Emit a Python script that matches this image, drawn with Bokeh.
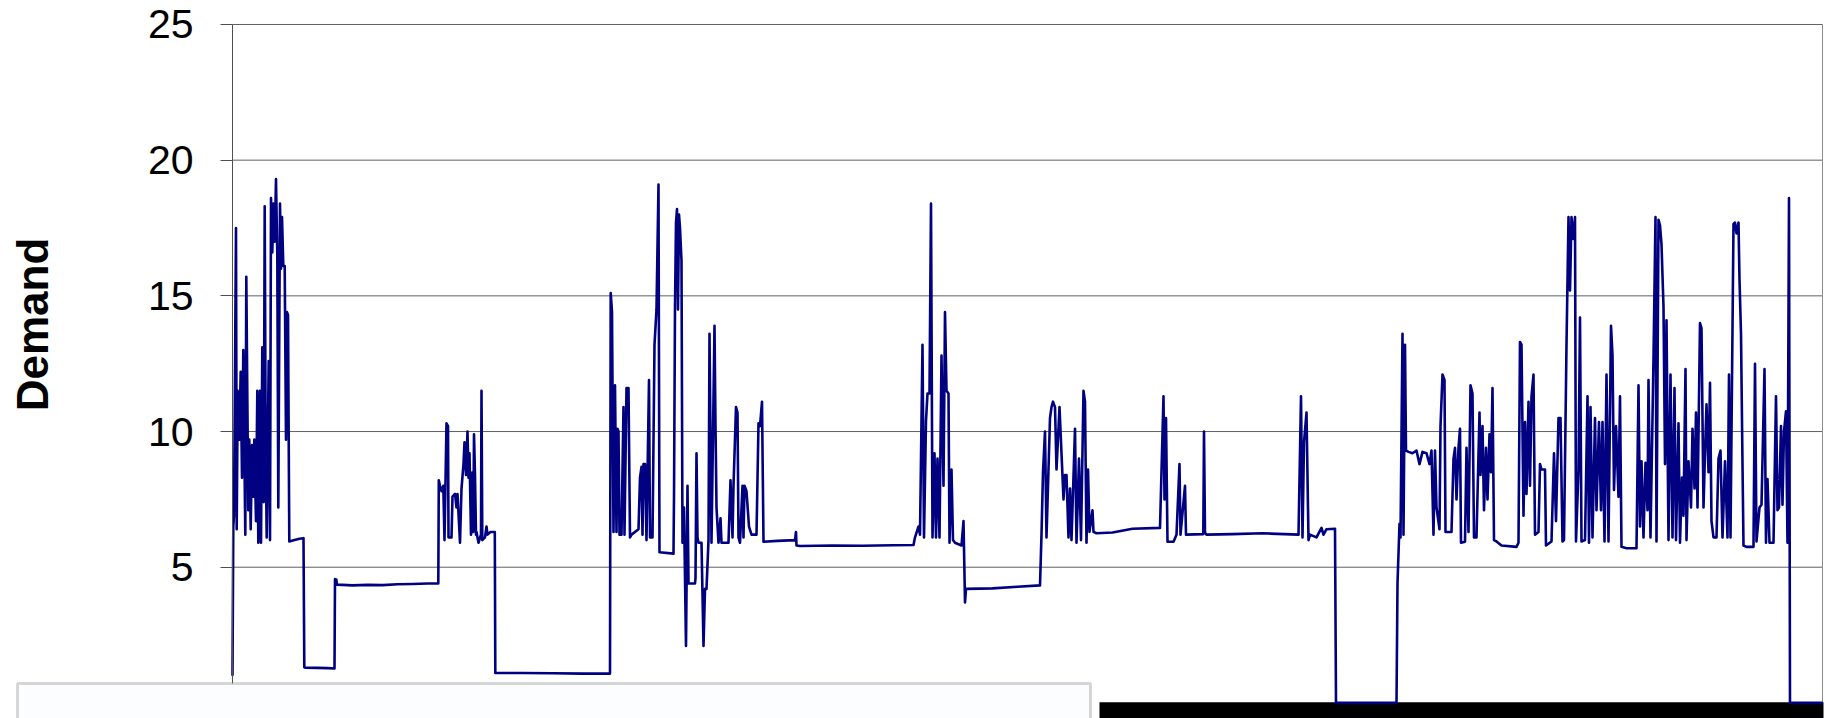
from bokeh.plotting import figure
from bokeh.models import Range1d, FixedTicker, Label, BoxAnnotation, ColumnDataSource
from bokeh.embed import file_html
from bokeh.resources import INLINE

# Demand series: sample time (hours from start) and demand level
hours = [
    0, 0.8, 1.5, 3.5, 4.2, 5.2, 6.8, 8.2, 9.5, 10.8, 12.8, 13.8, 15.8, 16.8, 18.2,
    19.5, 20.8, 21.8, 23.5, 24.8, 25.8, 27.5, 28.5, 29.8, 31.2, 32.2, 33.2, 34.2,
    36.2, 37.5, 38.5, 39.8, 40.8, 42.2, 43.5, 44.8, 45.8, 47.5, 48.5, 49.5, 50.8,
    52.2, 53.5, 54.5, 55.5, 56.8,
    62, 67, 71, 71.8, 72.5, 85, 95, 102, 102.5, 103.8, 104.5, 120, 135, 150, 165,
    180, 195, 205.8,
    206.3, 207.5, 209, 210.8, 212, 214, 215.5, 216, 219, 220, 222.5, 224, 225,
    227.5, 229, 231, 232, 233.5, 235, 236, 237, 238.5, 240, 240.8, 241.5, 242.5,
    243.5, 244, 246, 248.5, 249, 249.8, 252.5, 254, 255, 258, 262.3, 262.8,
    263, 290, 320, 350, 377.5,
    378.2, 379.5, 381, 382.5, 384, 385, 386, 387, 389, 391, 392, 394, 396, 397.5,
    399, 406, 407.5, 409, 410, 411, 412.5, 414, 416.5, 417.5, 420, 422, 424,
    426, 427, 441, 441.5, 442.5, 443.5, 444.5, 445.5, 446.5, 447.5, 449, 450,
    451.5, 453.5, 455, 456, 462.5, 463, 464, 465, 466, 469, 471, 472.5, 474, 476,
    477, 479, 482, 483, 484, 486, 488, 489, 496, 498, 500, 501, 503.5, 505, 506,
    507.5, 510, 511, 512, 514, 516.5, 519, 524, 526, 527.5, 529.5, 531, 545,
    562.5, 563.5, 564, 567.5, 600, 630, 660, 681,
    682.5, 686, 687.5, 690, 691.5, 693.5, 695, 697, 698.5, 700, 702, 703.5, 705,
    707, 709, 711, 712.5, 714, 716, 717, 719, 720.5, 722.5, 729, 731, 732.5,
    733.5, 760, 785, 807.5,
    809, 810.5, 812.5, 814, 817.5, 819, 820.5, 822.5, 824, 827, 829, 831, 832.5,
    834, 836, 837.5, 839, 842.5, 844, 846.5, 848.5, 851, 852.5, 854, 855.5, 857,
    860, 861, 864, 880, 900, 927.5,
    931, 932, 933.5, 935, 941, 944, 947, 948, 952.5, 953.5, 970.8, 971.5, 972.5,
    974, 1000, 1030, 1066,
    1068.5, 1070, 1071.5, 1074, 1076, 1077.5, 1084, 1089, 1091, 1094, 1102.5,
    1103.5, 1164, 1165, 1167, 1168, 1170, 1171, 1172.5, 1173.5,
    1176, 1180, 1184, 1187, 1190, 1194, 1197, 1199, 1201, 1202.5, 1204, 1207,
    1208, 1210, 1212, 1213, 1219, 1221, 1222.5, 1224, 1226, 1227.5, 1228.5,
    1232.5, 1234, 1236, 1238, 1240, 1241.5, 1244, 1247, 1248, 1250, 1251.5,
    1253.5, 1255, 1257, 1258.5, 1260, 1261.5, 1264, 1269, 1284, 1286, 1287.5,
    1289, 1291, 1292.5, 1294, 1296, 1297.5, 1299, 1301, 1302.5, 1306, 1307.5,
    1309, 1312.5, 1313.5, 1319, 1321.5, 1323.5, 1326, 1328, 1330, 1331.5, 1334,
    1336, 1337.5, 1339, 1341, 1342.5, 1343.5, 1346, 1347.5, 1349, 1352.5, 1355,
    1356.5, 1358, 1360, 1362.5, 1364, 1366.5, 1368.5, 1370, 1372, 1374, 1376,
    1378.5, 1380, 1381.5, 1383.5, 1386, 1387.5, 1389, 1394, 1404, 1406, 1407.5,
    1409, 1411, 1413, 1415, 1416, 1418, 1421, 1423, 1424, 1426, 1427.5, 1429,
    1431, 1432.5, 1434, 1436, 1438, 1440, 1442, 1443.5, 1446, 1447.5, 1449.5,
    1451, 1453, 1454, 1456, 1458.5, 1460, 1462, 1463.5, 1465, 1467.5, 1469, 1471,
    1472.5, 1474, 1476, 1477.5, 1479, 1481, 1484, 1486, 1488, 1490, 1492.5, 1495,
    1496.5, 1498, 1501, 1502.5, 1504, 1506, 1507, 1508.5, 1510, 1511, 1514, 1521,
    1522.5, 1524, 1527, 1529, 1532, 1533.5, 1535, 1537, 1541, 1543.5, 1545,
    1546.5, 1548.5, 1550, 1551.5, 1553.5, 1555, 1556.5, 1557.5, 1590,
]
demand = [
    1.0, 6.5, 6.9, 17.5, 6.4, 11.5, 9.7, 12.2, 8.3, 13.0, 6.2, 15.7, 7.1, 9.7, 6.4,
    9.5, 7.6, 9.7, 6.7, 11.5, 5.9, 11.5, 5.9, 13.1, 7.4, 18.3, 9.3, 6.1,
    12.6, 6.0, 18.6, 16.6, 18.4, 17.0, 19.3, 16.5, 7.2, 18.4, 16.0, 17.9, 16.1,
    16.1, 9.7, 14.4, 14.3, 5.95,
    6.0, 6.05, 6.07, 1.31, 1.3, 1.29, 1.28, 1.27, 4.56, 4.55, 4.36, 4.33, 4.35,
    4.34, 4.37, 4.38, 4.4, 4.4,
    8.2, 8.0, 7.8, 8.0, 6.0, 10.3, 10.2, 6.1, 6.1, 7.6, 7.7, 7.2, 7.7,
    5.9, 7.9, 8.8, 9.6, 8.4, 10.0, 8.3, 9.2, 6.2, 8.5, 6.3, 9.9, 8.4,
    6.2, 6.3, 5.9, 6.2, 11.5, 6.0, 6.1, 6.5, 6.2, 6.3, 6.3, 1.1,
    1.1, 1.1, 1.09, 1.08, 1.08,
    15.1, 14.4, 6.3, 11.7, 6.3, 10.1, 10.0, 6.2, 6.2, 10.9, 6.2, 11.6, 11.6, 6.1,
    6.2, 6.4, 8.3, 8.7, 6.2, 8.8, 8.8, 6.0, 11.9, 6.1, 6.1, 13.2, 14.5,
    19.1, 5.55, 5.5, 7.6, 14.6, 17.7, 18.2, 14.5, 18.0, 17.5, 16.3, 5.9,
    7.2, 2.1, 8.0, 4.4, 4.4, 4.6, 9.2, 6.1, 5.9, 5.9, 2.1, 4.2, 4.2, 6.0,
    13.6, 5.9, 13.9, 10.2, 7.2, 5.9, 6.8, 5.9, 5.9, 8.2, 6.1, 8.0, 10.9, 10.7, 6.1,
    5.9, 8.0, 6.1, 8.0, 7.8, 6.5, 6.2, 6.2, 10.3, 10.2, 11.1, 5.94, 5.97,
    6.0, 6.3, 5.8, 5.78, 5.8, 5.79, 5.81, 5.82,
    6.1, 6.5, 6.2, 13.2, 6.1, 10.4, 11.4, 11.4, 18.4, 6.1, 9.2, 6.1, 9.0,
    6.1, 12.8, 8.0, 14.4, 11.5, 11.4, 5.9, 8.6, 6.0, 5.9, 5.8, 6.7, 3.7,
    4.2, 4.22, 4.28, 4.33,
    6.2, 8.5, 10.0, 6.1, 10.5, 10.9, 11.1, 10.9, 8.6, 10.9, 9.2, 7.5, 8.4,
    8.4, 6.1, 7.9, 6.0, 10.1, 5.9, 9.0, 6.0, 11.5, 11.1, 5.9, 8.6, 6.3,
    7.1, 6.3, 6.25, 6.28, 6.42, 6.45,
    11.3, 7.5, 10.5, 5.94, 5.94, 6.2, 8.8, 6.2, 8.0, 6.2, 6.22, 10.0, 6.27,
    6.2, 6.22, 6.25, 6.2,
    11.3, 6.1, 9.6, 10.7, 6.0, 6.2, 6.1, 6.45, 6.2, 6.4, 6.42,
    0.0, 0.0, 4.4, 6.6, 6.1, 13.6, 6.2, 13.2, 9.3,
    9.25, 9.2, 9.3, 8.8, 9.25, 9.2, 8.8, 9.3, 6.2, 9.3, 7.2, 6.4,
    10.2, 12.1, 11.9, 6.3, 6.3, 9.0, 9.4, 7.5, 9.4, 10.1, 5.9,
    5.94, 9.4, 6.3, 11.7, 11.4, 6.1, 6.1, 10.7, 8.4, 10.2, 7.1,
    9.4, 7.5, 9.9, 8.5, 11.6, 6.0, 5.95, 5.8, 5.75, 5.9, 13.3,
    13.2, 6.9, 10.35, 7.7, 11.1, 8.0, 11.3, 12.1, 6.2, 6.3, 8.8,
    8.6, 8.6, 5.8, 5.95, 9.2, 6.7, 10.5, 10.5, 5.95, 6.0, 13.2,
    17.9, 15.2, 17.9, 17.1, 17.9, 5.95, 8.6, 14.2, 5.95, 6.0, 11.3,
    5.9, 10.9, 6.1, 10.5, 7.1, 10.35, 7.1, 10.35, 5.95, 12.1, 5.95,
    13.9, 12.8, 7.85, 10.2, 7.6, 11.3, 5.75, 5.7, 5.7, 11.7, 6.5,
    8.9, 6.1, 8.85, 7.1, 11.9, 6.1, 12.7, 17.9, 5.95, 17.8, 17.6, 16.9,
    14.6, 8.8, 14.1, 6.0, 12.1, 6.1, 11.6, 6.0, 10.3, 5.9, 8.3,
    6.9, 12.3, 6.0, 8.9, 7.2, 10.1, 7.9, 10.7, 7.2, 14.0, 13.8, 7.2,
    9.2, 11.0, 8.5, 11.8, 6.7, 6.1, 6.1, 9.0, 9.3, 6.1, 8.9, 6.1,
    12.1, 6.1, 17.65, 17.7, 17.3, 17.7, 15.6, 13.6, 8.8, 5.8, 5.75, 5.75,
    12.5, 5.95, 7.2, 7.3, 12.3, 5.9, 8.25, 5.9, 5.9, 11.3, 7.1,
    7.2, 10.2, 7.3, 10.0, 10.75, 5.9, 18.6, 0.0, 0.0,
]

tick_values = [5, 10, 15, 20, 25]
y_title = "Demand"

y_low, y_high = -0.575, 25.884

source = ColumnDataSource(data=dict(hours=hours, demand=demand))
grid_src = ColumnDataSource(data=dict(
    y=tick_values, x0=[0] * len(tick_values), x1=[hours[-1]] * len(tick_values)))
edge_src = ColumnDataSource(data=dict(
    x=[hours[-1]], y0=[y_low], y1=[tick_values[-1]]))

# The frame spans the whole canvas; the value axis sits at hour 0 and
# the left 232 px (negative hours) hold its ticks, labels and title.
p = figure(
    width=1825, height=718,
    output_backend="svg", toolbar_location=None,
    x_range=Range1d(-232, 1591), y_range=Range1d(y_low, y_high),
    x_axis_location=None,
    min_border_left=0, min_border_right=2, min_border_top=0, min_border_bottom=0,
)
p.background_fill_color = "white"
p.border_fill_color = "white"
p.outline_line_color = None
p.xgrid.visible = False
p.ygrid.visible = False

# horizontal gridlines across the plotting area only
p.segment(x0="x0", x1="x1", y0="y", y1="y", source=grid_src,
          line_color="#606060", line_width=1, level="underlay")
# right edge of the plotting area
p.segment(x0="x", x1="x", y0="y0", y1="y1", source=edge_src,
          line_color="#8c8c8c", line_width=1, level="underlay")

# y axis drawn at hour 0
yax = p.yaxis[0]
yax.fixed_location = 0
yax.bounds = (y_low, tick_values[-1])
yax.ticker = FixedTicker(ticks=tick_values)
yax.minor_tick_line_color = None
yax.major_tick_in = 0
yax.major_tick_out = 12
yax.major_tick_line_color = "#505050"
yax.axis_line_color = "#505050"
yax.major_label_standoff = 27
yax.major_label_text_font = "Liberation Sans"
yax.major_label_text_font_size = "41px"
yax.major_label_text_color = "black"

# dark baseline band along the bottom of the chart
band = BoxAnnotation(
    left=1099, right=1825, top=701.8, bottom=740,
    left_units="canvas", right_units="canvas", top_units="canvas", bottom_units="canvas",
    fill_color="black", fill_alpha=1.0, line_color=None, level="underlay",
)
p.add_layout(band)

p.line("hours", "demand", source=source, line_color="#000080", line_width=2.6,
       line_join="round")

# legend frame at the lower left
legend_box = BoxAnnotation(
    left=17, right=1090, top=683, bottom=740,
    left_units="canvas", right_units="canvas", top_units="canvas", bottom_units="canvas",
    fill_color="#fcfdff", fill_alpha=1.0, line_color="#7c7c7c", line_width=3,
    level="overlay",
)
p.add_layout(legend_box)

title = Label(
    x=31.5, y=324, x_units="canvas", y_units="canvas",
    text=y_title, angle=90, angle_units="deg",
    text_font="Liberation Sans", text_font_style="bold", text_font_size="44px",
    text_align="center", text_baseline="alphabetic", text_color="black",
)
p.add_layout(title)

open("out.html", "w").write(file_html(p, INLINE))
